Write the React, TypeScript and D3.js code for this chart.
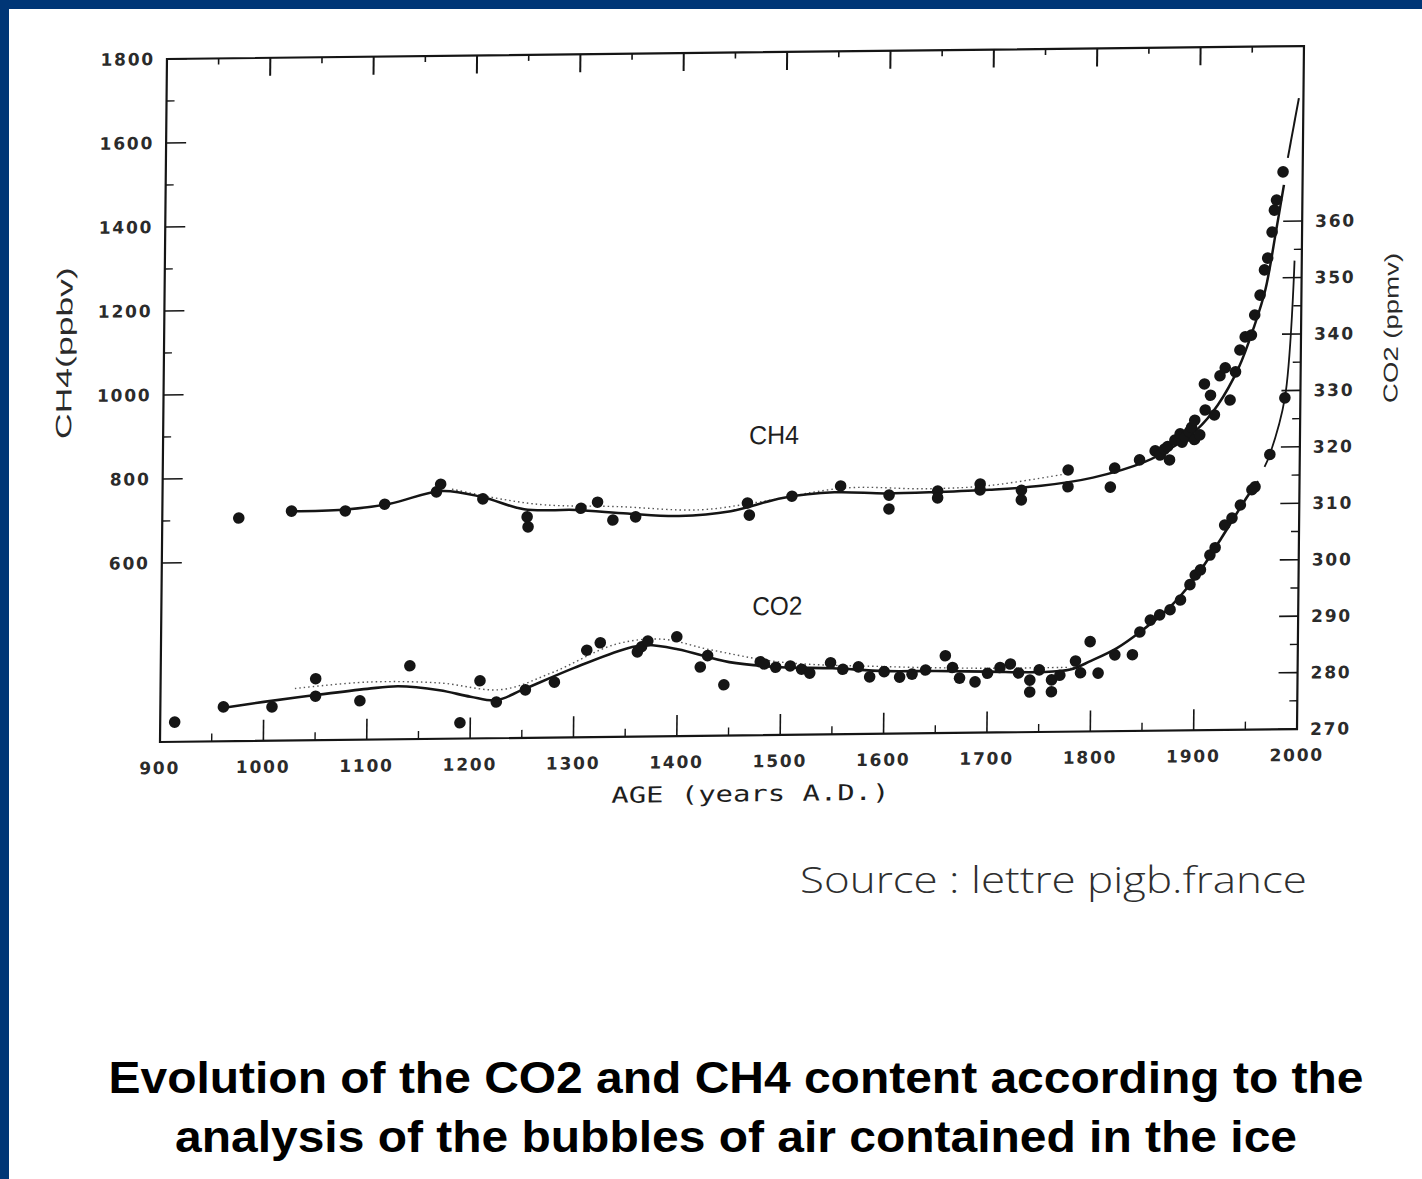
import * as d3 from "d3";

// ---- data ----
const YEAR_MAJOR = d3.range(1000, 2000, 100);
const YEAR_MINOR = d3.range(950, 2000, 100);
const YEAR_LABELS = d3.range(900, 2001, 100);
const CH4_MAJOR = [1800, 1600, 1400, 1200, 1000, 800, 600];
const CH4_MINOR = [1700, 1500, 1300, 1100, 900, 700];
const CO2_MAJOR = [270, 280, 290, 300, 310, 320, 330, 340, 350, 360];
const CO2_MINOR = [275, 285, 295, 305, 315, 325, 335, 345, 355];

// [year, ppbv]
const CH4_POINTS: [number, number][] = [
  [974, 705], [1025, 720], [1077, 719], [1115, 734], [1165, 762], [1169, 780],
  [1210, 744], [1253, 700], [1254, 676], [1305, 719], [1321, 733], [1336, 690],
  [1358, 697], [1466, 727], [1468, 698], [1509, 742], [1556, 765], [1603, 742],
  [1603, 709], [1650, 750], [1650, 734], [1691, 766], [1691, 752], [1731, 750],
  [1731, 727], [1776, 797], [1776, 757], [1817, 755], [1821, 800], [1845, 819],
  [1860, 840], [1865, 830], [1874, 818], [1869, 844], [1872, 850], [1879, 865],
  [1884, 880], [1886, 860], [1889, 872], [1893, 885], [1895, 895], [1898, 866],
  [1903, 877], [1898, 912], [1908, 936], [1907, 998], [1913, 971], [1917, 924],
  [1922, 1017], [1927, 1036], [1932, 959], [1937, 1026], [1941, 1078], [1946, 1109],
  [1952, 1113], [1955, 1161], [1960, 1208], [1964, 1268], [1967, 1296], [1971, 1358],
  [1973, 1410], [1975, 1434], [1981, 1501],
];
const CH4_CURVE: [number, number][] = [
  [1025, 720], [1075, 722], [1120, 735], [1170, 764], [1210, 748], [1250, 718],
  [1300, 715], [1350, 705], [1400, 698], [1450, 708], [1500, 738], [1550, 750],
  [1600, 746], [1650, 748], [1700, 752], [1750, 760], [1800, 778], [1850, 814],
  [1880, 853], [1900, 889], [1920, 947], [1940, 1036], [1955, 1137], [1965, 1220],
  [1975, 1363], [1982, 1470],
];
const CH4_TAIL: [number, number][] = [[1985.5, 1534], [1995.6, 1676]];
const CH4_ALT: [number, number][] = [
  [1180, 768], [1230, 742], [1270, 728], [1340, 722], [1420, 712], [1480, 730],
  [1560, 760], [1640, 756], [1700, 762], [1780, 790],
];

// [year, ppmv]
const CO2_POINTS: [number, number][] = [
  [914, 273.5], [961, 276.1], [1008, 276.0], [1050, 280.9], [1050, 277.8], [1093, 276.9],
  [1141, 283.0], [1190, 272.8], [1209, 280.2], [1225, 276.4], [1253, 278.5], [1281, 279.8],
  [1312, 285.4], [1325, 286.7], [1361, 285.0], [1365, 285.9], [1371, 286.9], [1399, 287.6],
  [1422, 282.2], [1429, 284.2], [1445, 279.0], [1480, 283.0], [1484, 282.6], [1495, 282.0],
  [1509, 282.2], [1520, 281.6], [1528, 280.9], [1548, 282.7], [1560, 281.5], [1575, 281.9],
  [1586, 280.1], [1600, 281.0], [1615, 280.0], [1627, 280.5], [1640, 281.2], [1659, 283.7],
  [1666, 281.6], [1673, 279.7], [1688, 279.0], [1700, 280.5], [1712, 281.5], [1722, 282.1],
  [1730, 280.5], [1741, 279.2], [1741, 277.1], [1750, 281.0], [1762, 279.2], [1762, 277.1],
  [1770, 280.0], [1785, 282.5], [1790, 280.4], [1799, 285.9], [1807, 280.3], [1823, 283.5],
  [1840, 283.5], [1847, 287.5], [1857, 289.6], [1866, 290.5], [1876, 291.4], [1886, 293.1],
  [1895, 295.8], [1900, 297.5], [1905, 298.4], [1914, 301.0], [1919, 302.3], [1928, 306.3],
  [1935, 307.5], [1943, 309.8], [1954, 312.5], [1957, 313.0], [1971, 318.7], [1985, 328.7],
];
const CO2_CURVE: [number, number][] = [
  [960, 275.9], [1000, 276.9], [1050, 278.0], [1100, 279.0], [1130, 279.4], [1170, 278.6],
  [1200, 277.4], [1225, 276.7], [1250, 278.5], [1300, 282.3], [1350, 285.6], [1370, 286.2],
  [1400, 285.4], [1450, 283.0], [1500, 282.0], [1550, 281.7], [1600, 281.1], [1650, 281.0],
  [1700, 280.8], [1750, 280.6], [1780, 281.0], [1800, 282.5], [1825, 284.7], [1850, 287.9],
  [1875, 291.7], [1900, 297.0], [1925, 304.0], [1950, 311.4], [1960, 314.0],
];
const CO2_TAIL: [number, number][] = [[1966, 316.5], [1971, 318.7], [1985, 328.7], [1993, 353.0]];
const CO2_ALT: [number, number][] = [
  [1030, 279.2], [1100, 280.2], [1170, 279.9], [1230, 278.6], [1280, 281.6], [1340, 286.4],
  [1385, 287.2], [1430, 285.3], [1500, 282.9], [1600, 281.9], [1700, 281.4], [1780, 281.4],
];

// ---- layout (unskewed plot frame; the scan's slight shear is applied as a matrix) ----
const W = 1422;
const H = 1179;
const left = 160;
const right = 1297;
const top = 59;
const bottom = 742;

const x = d3.scaleLinear().domain([900, 2000]).range([left, right]);
const yCH4 = d3.scaleLinear().domain([600, 1800]).range([563, top]);
const yCO2 = d3.scaleLinear().domain([270, 360]).range([bottom, 234]);

const ink = "#151515";
const tickFont = { fontFamily: "DejaVu Sans", fontWeight: 700, fontSize: 17, fill: "#2b2b2b", letterSpacing: 1.8 } as const;

export default function App() {
  const ch4Line = d3.line<[number, number]>().x(d => x(d[0])).y(d => yCH4(d[1])).curve(d3.curveCatmullRom);
  const co2Line = d3.line<[number, number]>().x(d => x(d[0])).y(d => yCO2(d[1])).curve(d3.curveCatmullRom);
  const shear = `translate(${left},${bottom}) matrix(1,-0.0114,-0.0102,1,0,0) translate(${-left},${-bottom})`;

  return (
    <svg width={W} height={H} style={{ position: "absolute", left: 0, top: 0, background: "#fff" }}>
      <rect x={0} y={0} width={W} height={H} fill="#fff" />
      {/* slide border */}
      <rect x={0} y={0} width={W} height={9} fill="#003676" />
      <rect x={0} y={0} width={9} height={H} fill="#003676" />

      <g transform={shear}>
        {/* frame */}
        <rect x={left} y={top} width={right - left} height={bottom - top} fill="none" stroke={ink} strokeWidth={2.2} />

        {/* bottom + top ticks */}
        {YEAR_MAJOR.map(v => (
          <g key={"xm" + v}>
            <line x1={x(v)} x2={x(v)} y1={bottom} y2={bottom - 21} stroke={ink} strokeWidth={1.6} />
            <line x1={x(v)} x2={x(v)} y1={top} y2={top + 18} stroke={ink} strokeWidth={2} />
          </g>
        ))}
        {YEAR_MINOR.map(v => (
          <g key={"xn" + v}>
            <line x1={x(v)} x2={x(v)} y1={bottom} y2={bottom - 8} stroke={ink} strokeWidth={1.4} />
            <line x1={x(v)} x2={x(v)} y1={top} y2={top + 6} stroke={ink} strokeWidth={1.6} />
          </g>
        ))}
        {YEAR_LABELS.map(v => (
          <text key={"xl" + v} x={x(v)} y={bottom + 32} textAnchor="middle" {...tickFont}>{v}</text>
        ))}

        {/* left CH4 axis */}
        {CH4_MAJOR.map(v => (
          <g key={"lm" + v}>
            <line x1={left} x2={left + 20} y1={yCH4(v)} y2={yCH4(v)} stroke={ink} strokeWidth={1.6} />
            <text x={left - 12} y={yCH4(v) + 6} textAnchor="end" {...tickFont}>{v}</text>
          </g>
        ))}
        {CH4_MINOR.map(v => (
          <line key={"ln" + v} x1={left} x2={left + 8} y1={yCH4(v)} y2={yCH4(v)} stroke={ink} strokeWidth={1.4} />
        ))}

        {/* right CO2 axis */}
        {CO2_MAJOR.map(v => (
          <g key={"rm" + v}>
            <line x1={right} x2={right - 19} y1={yCO2(v)} y2={yCO2(v)} stroke={ink} strokeWidth={1.6} />
            <text x={right + 13} y={yCO2(v) + 6} textAnchor="start" {...tickFont}>{v}</text>
          </g>
        ))}
        {CO2_MINOR.map(v => (
          <line key={"rn" + v} x1={right} x2={right - 8} y1={yCO2(v)} y2={yCO2(v)} stroke={ink} strokeWidth={1.4} />
        ))}

        {/* axis titles */}
        <text transform="translate(68,352) rotate(-90)" textAnchor="middle" fontFamily="Liberation Sans, Arial, sans-serif"
          fontSize={22} fill="#2a2a2a" textLength={172} lengthAdjust="spacingAndGlyphs">CH4(ppbv)</text>
        <text transform="translate(1394,342) rotate(-90)" textAnchor="middle" fontFamily="Liberation Sans, Arial, sans-serif"
          fontSize={20} fill="#2a2a2a" textLength={150} lengthAdjust="spacingAndGlyphs">CO2 (ppmv)</text>
        <text x={751} y={808} textAnchor="middle" fontFamily="DejaVu Sans Mono, monospace" fontSize={22} fill="#1e1e1e"
          textLength={278} lengthAdjust="spacingAndGlyphs">AGE (years A.D.)</text>

        {/* series labels */}
        <text x={771} y={451} textAnchor="middle" fontFamily="Liberation Sans, Arial, sans-serif" fontSize={26} fill="#1e1e1e"
          textLength={50} lengthAdjust="spacingAndGlyphs">CH4</text>
        <text x={776} y={622} textAnchor="middle" fontFamily="Liberation Sans, Arial, sans-serif" fontSize={26} fill="#1e1e1e"
          textLength={50} lengthAdjust="spacingAndGlyphs">CO2</text>

        {/* stippled alternative fits */}
        <path d={ch4Line(CH4_ALT) || ""} fill="none" stroke="#555" strokeWidth={1.4} strokeDasharray="1.5 3" />
        <path d={co2Line(CO2_ALT) || ""} fill="none" stroke="#555" strokeWidth={1.4} strokeDasharray="1.5 3" />

        {/* fitted curves */}
        <path d={ch4Line(CH4_CURVE) || ""} fill="none" stroke={ink} strokeWidth={2.5} />
        <path d={ch4Line(CH4_TAIL) || ""} fill="none" stroke={ink} strokeWidth={2} />
        <path d={co2Line(CO2_CURVE) || ""} fill="none" stroke={ink} strokeWidth={2.6} />
        <path d={co2Line(CO2_TAIL) || ""} fill="none" stroke={ink} strokeWidth={1.8} />

        {/* measurements */}
        {CH4_POINTS.map((d, i) => (
          <circle key={"c" + i} cx={x(d[0])} cy={yCH4(d[1])} r={5.8} fill={ink} />
        ))}
        {CO2_POINTS.map((d, i) => (
          <circle key={"o" + i} cx={x(d[0])} cy={yCO2(d[1])} r={5.8} fill={ink} />
        ))}
      </g>

      <text x={1307} y={893} textAnchor="end" fontFamily="Open Sans, Lato, sans-serif" fontWeight={300} fontSize={36}
        fill="#2e2e2e" textLength={507} lengthAdjust="spacingAndGlyphs">Source : lettre pigb.france</text>

      <text x={736} y={1093} textAnchor="middle" fontFamily="Liberation Sans, Arial, sans-serif" fontWeight={700}
        fontSize={44} fill="#000" textLength={1255} lengthAdjust="spacingAndGlyphs">
        Evolution of the CO2 and CH4 content according to the
      </text>
      <text x={736} y={1152} textAnchor="middle" fontFamily="Liberation Sans, Arial, sans-serif" fontWeight={700}
        fontSize={44} fill="#000" textLength={1122} lengthAdjust="spacingAndGlyphs">
        analysis of the bubbles of air contained in the ice
      </text>
    </svg>
  );
}
